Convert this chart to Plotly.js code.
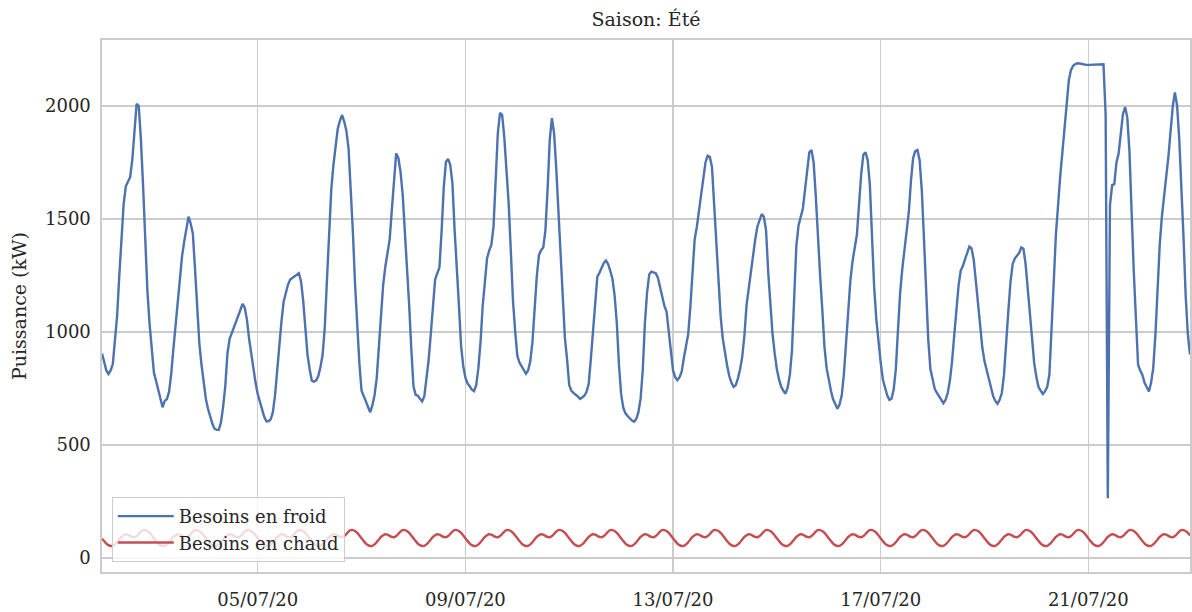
<!DOCTYPE html>
<html>
<head>
<meta charset="utf-8">
<script src="https://cdn.plot.ly/plotly-3.0.1.min.js"></script>
<style>html,body{margin:0;padding:0;background:#fff;}#chart{width:1192px;height:612px;}</style>
</head>
<body>
<div id="chart"></div>
<script>
// Hourly series starting 02/07/2020 00:00
const startTime = [2020, 7, 2];
const seriesNames = ['Besoins en froid', 'Besoins en chaud'];
const tickDates = ['2020-07-05', '2020-07-09', '2020-07-13', '2020-07-17', '2020-07-21'];
const tickLabels = ['05/07/20', '09/07/20', '13/07/20', '17/07/20', '21/07/20'];
const yTicks = [0, 500, 1000, 1500, 2000];

const besoinsFroid = [
  905, 860, 830, 814, 830, 858, 950, 1072, 1250, 1430, 1565, 1645, 1665, 1685, 1761, 1890, 2010, 2000, 1850, 1645, 1380, 1180, 1035, 910,
  820, 783, 740, 700, 667, 695, 703, 735, 815, 925, 1035, 1145, 1255, 1335, 1400, 1460, 1510, 1480, 1435, 1280, 1115, 950, 855, 765,
  705, 660, 622, 595, 572, 567, 567, 600, 670, 760, 905, 970, 995, 1020, 1045, 1075, 1100, 1124, 1108, 1055, 970, 900, 830, 775,
  725, 690, 650, 625, 605, 605, 614, 645, 720, 835, 935, 1050, 1135, 1180, 1210, 1232, 1240, 1248, 1256, 1260, 1225, 1140, 1020, 900,
  835, 785, 780, 786, 805, 845, 900, 1020, 1230, 1470, 1630, 1740, 1830, 1900, 1935, 1960, 1930, 1890, 1810, 1650, 1440, 1210, 1010, 860,
  740, 712, 693, 668, 645, 675, 720, 795, 920, 1070, 1210, 1290, 1345, 1410, 1540, 1690, 1790, 1770, 1710, 1610, 1460, 1290, 1120, 925,
  760, 722, 718, 705, 693, 715, 790, 875, 990, 1110, 1232, 1260, 1285, 1445, 1640, 1752, 1766, 1740, 1660, 1455, 1260, 1120, 940, 850,
  798, 772, 760, 745, 738, 765, 840, 955, 1115, 1235, 1325, 1360, 1385, 1465, 1700, 1880, 1970, 1960, 1860, 1715, 1570, 1360, 1140, 1005,
  895, 865, 847, 830, 815, 830, 870, 955, 1105, 1245, 1340, 1362, 1374, 1450, 1630, 1850, 1946, 1880, 1725, 1520, 1320, 1120, 975, 880,
  765, 740, 729, 722, 715, 704, 710, 718, 735, 770, 880, 1000, 1130, 1245, 1262, 1285, 1306, 1316, 1300, 1270, 1235, 1160, 1040, 855,
  725, 665, 640, 628, 618, 608, 603, 615, 645, 705, 830, 1040, 1175, 1255, 1267, 1265, 1260, 1240, 1200, 1150, 1115, 1090, 1010, 920,
  830, 800, 787, 800, 824, 885, 945, 990, 1110, 1285, 1410, 1465, 1540, 1610, 1687, 1750, 1780, 1775, 1730, 1560, 1370, 1215, 1070, 970,
  905, 852, 805, 775, 757, 765, 795, 835, 890, 985, 1120, 1195, 1275, 1345, 1410, 1467, 1500, 1522, 1510, 1450, 1265, 1110, 990, 905,
  835, 790, 758, 740, 727, 755, 810, 920, 1165, 1380, 1470, 1515, 1545, 1628, 1710, 1795, 1805, 1750, 1600, 1400, 1250, 1100, 935, 840,
  780, 740, 702, 680, 660, 680, 720, 815, 960, 1110, 1230, 1315, 1370, 1430, 1565, 1700, 1785, 1795, 1760, 1650, 1420, 1195, 1055, 950,
  865, 790, 750, 720, 700, 705, 745, 835, 1010, 1175, 1280, 1355, 1430, 1530, 1670, 1770, 1800, 1805, 1760, 1628, 1415, 1180, 965, 835,
  790, 748, 730, 715, 700, 685, 700, 730, 785, 870, 985, 1110, 1205, 1272, 1292, 1322, 1352, 1378, 1370, 1320, 1225, 1130, 1030, 930,
  870, 832, 795, 755, 716, 695, 682, 700, 730, 810, 930, 1090, 1220, 1300, 1325, 1337, 1350, 1374, 1368, 1300, 1190, 1080, 965, 860,
  800, 755, 740, 726, 738, 757, 812, 990, 1220, 1430, 1580, 1690, 1795, 1900, 2010, 2115, 2160, 2178, 2186, 2189, 2188, 2185, 2183, 2182,
  2182, 2182, 2182, 2182, 2182, 2182, 2183, 2185, 1960, 264, 1560, 1650, 1654, 1750, 1790, 1880, 1965, 1995, 1950, 1800, 1520, 1270, 1060, 855,
  830, 810, 775, 752, 737, 775, 840, 985, 1180, 1385, 1510, 1600, 1670, 1775, 1885, 1995, 2060, 2005, 1860, 1660, 1420, 1160, 990, 900
];

const besoinsChaud = [
  85, 75, 64, 57, 53, 54, 60, 70, 82, 93, 101, 105, 103, 98, 93, 92, 97, 106, 117, 123, 123, 119, 111, 100,
  87, 75, 64, 57, 53, 54, 60, 70, 82, 93, 101, 105, 103, 98, 93, 92, 97, 106, 117, 123, 123, 119, 111, 100,
  87, 75, 64, 57, 53, 54, 60, 70, 82, 93, 101, 105, 103, 98, 93, 92, 97, 106, 117, 123, 123, 119, 111, 100,
  87, 75, 64, 57, 53, 54, 60, 70, 82, 93, 101, 105, 103, 98, 93, 92, 97, 106, 117, 123, 123, 119, 111, 100,
  87, 75, 64, 57, 53, 54, 60, 70, 82, 93, 101, 105, 103, 98, 93, 92, 97, 106, 117, 123, 123, 119, 111, 100,
  87, 75, 64, 57, 53, 54, 60, 70, 82, 93, 101, 105, 103, 98, 93, 92, 97, 106, 117, 123, 123, 119, 111, 100,
  87, 75, 64, 57, 53, 54, 60, 70, 82, 93, 101, 105, 103, 98, 93, 92, 97, 106, 117, 123, 123, 119, 111, 100,
  87, 75, 64, 57, 53, 54, 60, 70, 82, 93, 101, 105, 103, 98, 93, 92, 97, 106, 117, 123, 123, 119, 111, 100,
  87, 75, 64, 57, 53, 54, 60, 70, 82, 93, 101, 105, 103, 98, 93, 92, 97, 106, 117, 123, 123, 119, 111, 100,
  87, 75, 64, 57, 53, 54, 60, 70, 82, 93, 101, 105, 103, 98, 93, 92, 97, 106, 117, 123, 123, 119, 111, 100,
  87, 75, 64, 57, 53, 54, 60, 70, 82, 93, 101, 105, 103, 98, 93, 92, 97, 106, 117, 123, 123, 119, 111, 100,
  87, 75, 64, 57, 53, 54, 60, 70, 82, 93, 101, 105, 103, 98, 93, 92, 97, 106, 117, 123, 123, 119, 111, 100,
  87, 75, 64, 57, 53, 54, 60, 70, 82, 93, 101, 105, 103, 98, 93, 92, 97, 106, 117, 123, 123, 119, 111, 100,
  87, 75, 64, 57, 53, 54, 60, 70, 82, 93, 101, 105, 103, 98, 93, 92, 97, 106, 117, 123, 123, 119, 111, 100,
  87, 75, 64, 57, 53, 54, 60, 70, 82, 93, 101, 105, 103, 98, 93, 92, 97, 106, 117, 123, 123, 119, 111, 100,
  87, 75, 64, 57, 53, 54, 60, 70, 82, 93, 101, 105, 103, 98, 93, 92, 97, 106, 117, 123, 123, 119, 111, 100,
  87, 75, 64, 57, 53, 54, 60, 70, 82, 93, 101, 105, 103, 98, 93, 92, 97, 106, 117, 123, 123, 119, 111, 100,
  87, 75, 64, 57, 53, 54, 60, 70, 82, 93, 101, 105, 103, 98, 93, 92, 97, 106, 117, 123, 123, 119, 111, 100,
  87, 75, 64, 57, 53, 54, 60, 70, 82, 93, 101, 105, 103, 98, 93, 92, 97, 106, 117, 123, 123, 119, 111, 100,
  87, 75, 64, 57, 53, 54, 60, 70, 82, 93, 101, 105, 103, 98, 93, 92, 97, 106, 117, 123, 123, 119, 111, 100,
  87, 75, 64, 57, 53, 54, 60, 70, 82, 93, 101, 105, 103, 98, 93, 92, 97, 106, 117, 123, 123, 119, 111, 100
];

function pad(n) { return (n < 10 ? '0' : '') + n; }
function hourStamp(i) {
  const d = new Date(Date.UTC(startTime[0], startTime[1] - 1, startTime[2], i));
  return d.getUTCFullYear() + '-' + pad(d.getUTCMonth() + 1) + '-' + pad(d.getUTCDate()) +
    ' ' + pad(d.getUTCHours()) + ':00:00';
}
const times = besoinsFroid.map((_, i) => hourStamp(i));

const traces = [
  { x: times, y: besoinsFroid, name: seriesNames[0], type: 'scatter', mode: 'lines',
    line: { color: '#4c72b0', width: 2.4 } },
  { x: times, y: besoinsChaud, name: seriesNames[1], type: 'scatter', mode: 'lines',
    line: { color: '#c44e52', width: 2.4, shape: 'spline', smoothing: 0.6 } }
];

const gridColor = '#cccccc';
const layout = {
  width: 1192, height: 612,
  margin: { l: 102, r: 2, t: 40, b: 40 },
  paper_bgcolor: '#ffffff', plot_bgcolor: '#ffffff',
  font: { family: 'DejaVu Serif', size: 18, color: '#262626' },
  title: { text: 'Saison: Été', font: { size: 19, color: '#262626' },
           x: 0.5, xref: 'paper', xanchor: 'center', y: 0.968, yref: 'container', yanchor: 'middle' },
  xaxis: {
    type: 'date', range: [times[0], times[times.length - 1]],
    tickmode: 'array', tickvals: tickDates, ticktext: tickLabels,
    showgrid: true, gridcolor: gridColor, gridwidth: 1.4,
    showline: true, linecolor: gridColor, linewidth: 1.6, mirror: true,
    ticks: '', zeroline: false, ticklabelstandoff: 11,
    tickfont: { size: 18, color: '#262626' }
  },
  yaxis: {
    range: [-62, 2292], tickmode: 'array', tickvals: yTicks,
    showgrid: true, gridcolor: gridColor, gridwidth: 1.4,
    showline: true, linecolor: gridColor, linewidth: 1.6, mirror: true,
    ticks: '', zeroline: false, ticklabelstandoff: 6,
    tickfont: { size: 18, color: '#262626' },
    title: { text: 'Puissance (kW)', font: { size: 19, color: '#262626' }, standoff: 13 }
  },
  legend: {
    x: 0.009, y: 0.019, xanchor: 'left', yanchor: 'bottom',
    bgcolor: 'rgba(255,255,255,0.8)', bordercolor: gridColor, borderwidth: 1,
    font: { size: 18, color: '#262626' }, traceorder: 'normal', itemwidth: 56
  },
  showlegend: true
};

Plotly.newPlot('chart', traces, layout, { displayModeBar: false, staticPlot: true });
</script>
</body>
</html>
